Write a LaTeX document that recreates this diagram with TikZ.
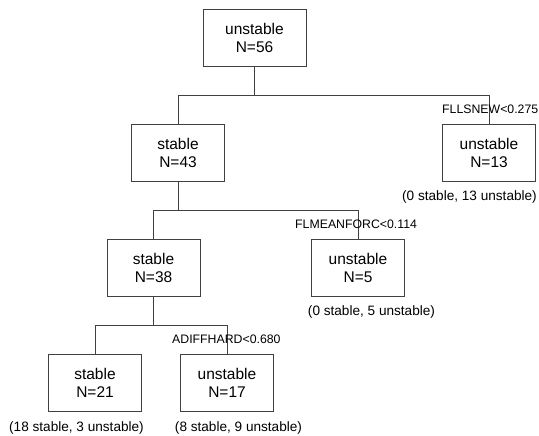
\documentclass[tikz,border=0pt]{standalone}
\usepackage{fontspec}
\setmainfont{Liberation Sans}
\usetikzlibrary{calc}

\begin{document}
\begin{tikzpicture}[
	x=1pt, y=-1pt,
	every node/.style={
		align=center,
		inner sep=0pt
	},
	leaf/.style={
		draw=black!75,
		line width=0.9pt,
		minimum width=93pt,
		minimum height=57pt,
		font=\fontsize{15.5}{18}\selectfont
	},
	split/.style={anchor=west, font=\fontsize{12.3}{14}\selectfont},
	tally/.style={font=\fontsize{13.6}{16}\selectfont},
	link/.style={draw=black!75, line width=0.9pt}
]

\useasboundingbox (0,0) rectangle (539,436);

\node[leaf, minimum width=103pt] (root) at (254.5,37.5) {unstable\\N=56};
\node[leaf] (n43) at (178,153) {stable\\N=43};
\node[leaf] (n13) at (489,153) {unstable\\N=13};
\node[leaf] (n38) at (153.5,267.5) {stable\\N=38};
\node[leaf] (n5) at (358,267.5) {unstable\\N=5};
\node[leaf] (n21) at (95,383) {stable\\N=21};
\node[leaf] (n17) at (227,383) {unstable\\N=17};

\draw[link] (root.south) -- ++(0,29) coordinate (f1);
\draw[link] (n43.north) |- (f1) -| (n13.north);
\draw[link] (n43.south) -- ++(0,28.5) coordinate (f2);
\draw[link] (n38.north) |- (f2) -| (n5.north);
\draw[link] (n38.south) -- ++(0,29) coordinate (f3);
\draw[link] (n21.north) |- (f3) -| (n17.north);

\node[split] (s13) at ($(n13.north)+(-47,-15)$) {FLLSNEW<0.275};
\node[split] (s5) at ($(n5.north)+(-63,-14)$) {FLMEANFORC<0.114};
\node[split] (s17) at ($(n17.north)+(-55,-15)$) {ADIFFHARD<0.680};

\node[tally] (t13) at ($(n13.south)+(-19.5,15.5)$) {(0 stable, 13 unstable)};
\node[tally] (t5) at ($(n5.south)+(13.5,15.5)$) {(0 stable, 5 unstable)};
\node[tally] (t21) at ($(n21.south)+(-18.5,16)$) {(18 stable, 3 unstable)};
\node[tally] (t17) at ($(n17.south)+(11.5,16)$) {(8 stable, 9 unstable)};
\end{tikzpicture}
\end{document}
